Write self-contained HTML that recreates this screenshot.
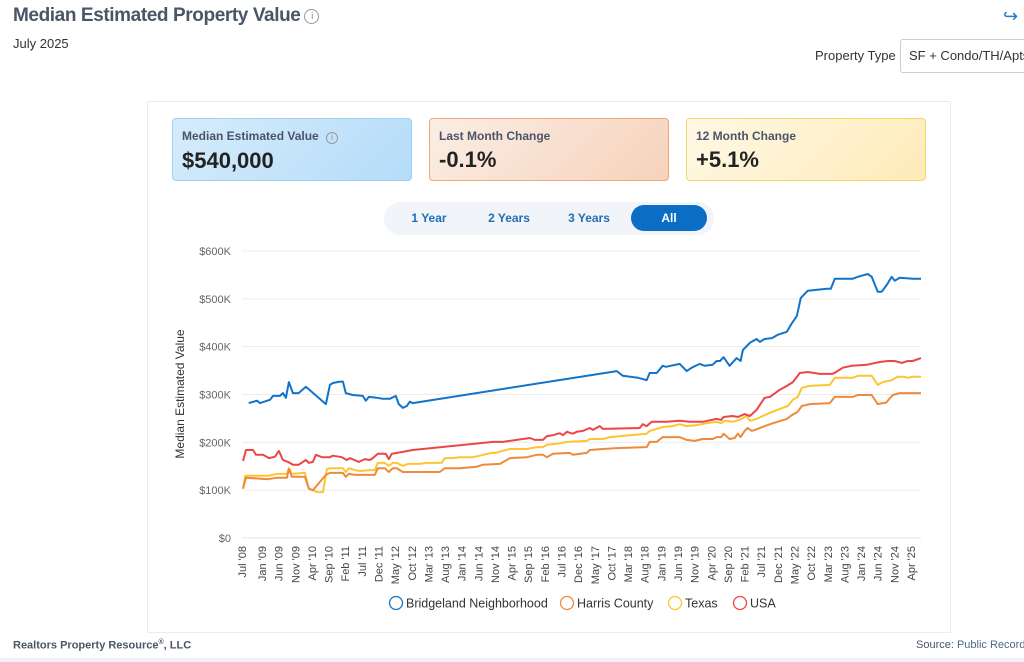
<!DOCTYPE html>
<html><head><meta charset="utf-8"><style>
*{box-sizing:border-box;margin:0;padding:0}
body{width:1024px;height:662px;position:relative;overflow:hidden;background:#fff;font-family:"Liberation Sans",sans-serif;color:#333}
.abs{position:absolute}
.title{left:13px;top:5px;font-size:19px;font-weight:bold;color:#4a5568;letter-spacing:-0.4px}
.info{display:inline-block;width:15px;height:15px;border:1.3px solid #999;border-radius:50%;font-size:10px;color:#888;text-align:center;line-height:13px;font-weight:normal;vertical-align:2px;margin-left:4px}
.card{left:147px;top:101px;width:804px;height:532px;border:1px solid #e8ecf2}
.stat{top:118px;height:63px;width:240px;border-radius:4px;padding:10px 9px}
.stat .l{font-size:12px;font-weight:bold;color:#4a5568}
.stat .v{font-size:22px;font-weight:bold;color:#222;margin-top:4px}
.tabs{left:384px;top:202px;width:330px;height:33px;border-radius:17px;background:#f1f4f8}
.tab{position:absolute;top:3px;height:26px;line-height:26px;font-size:12px;color:#1f6fb8;font-weight:bold;text-align:center}
</style></head><body>
<div class="abs title">Median Estimated Property Value<span class="info">i</span></div>
<div class="abs" style="left:13px;top:36px;font-size:13px;color:#333">July 2025</div>
<div class="abs" style="left:1003px;top:6px;font-size:18px;color:#1f7acc">↪</div>
<div class="abs" style="left:815px;top:48px;font-size:13px;color:#333">Property Type</div>
<div class="abs" style="left:900px;top:39px;width:130px;height:34px;border:1px solid #ccc;border-radius:3px;padding:8px 8px;font-size:13px;color:#333;white-space:nowrap;overflow:hidden">SF + Condo/TH/Apts</div>
<div class="abs card"></div>
<div class="abs stat" style="left:172px;background:linear-gradient(135deg,#d6ecfb,#b4dcfa);border:1px solid #9fd0f5"><div class="l">Median Estimated Value <span class="info" style="width:12px;height:12px;font-size:8px;line-height:10px;vertical-align:0">i</span></div><div class="v">$540,000</div></div>
<div class="abs stat" style="left:429px;background:linear-gradient(135deg,#fbeee5,#f6d2bb);border:1px solid #f0a878"><div class="l">Last Month Change</div><div class="v">-0.1%</div></div>
<div class="abs stat" style="left:686px;background:linear-gradient(135deg,#fff8e6,#fdebb8);border:1px solid #f8d56a"><div class="l">12 Month Change</div><div class="v">+5.1%</div></div>
<div class="abs tabs">
<div class="tab" style="left:14px;width:62px">1 Year</div>
<div class="tab" style="left:94px;width:62px">2 Years</div>
<div class="tab" style="left:174px;width:62px">3 Years</div>
<div class="tab" style="left:247px;width:76px;background:#0b6dc3;color:#fff;border-radius:14px">All</div>
</div>
<svg class="abs" style="left:0;top:0" width="1024" height="662" id="chart"></svg>
<div class="abs" style="left:13px;top:639px;font-size:11px;font-weight:bold;color:#4a5568">Realtors Property Resource<sup style="font-size:7px">®</sup>, LLC</div>
<div class="abs" style="left:916px;top:639px;font-size:11px;color:#4a5568;white-space:nowrap">Source: <span style="color:#4a6a8a">Public Records</span></div>
<div class="abs" style="left:0;top:658px;width:1024px;height:4px;background:#eef1f5"></div>
<script>
const yTicks=[0,100,200,300,400,500,600];
const yTickLabels=["$0","$100K","$200K","$300K","$400K","$500K","$600K"];
const xTickMonths=[0,6,11,16,21,26,31,36,41,46,51,56,61,66,71,76,81,86,91,96,101,106,111,116,121,126,131,136,141,146,151,156,161,166,171,176,181,186,191,196,201];
const xTickLabels=["Jul '08","Jan '09","Jun '09","Nov '09","Apr '10","Sep '10","Feb '11","Jul '11","Dec '11","May '12","Oct '12","Mar '13","Aug '13","Jan '14","Jun '14","Nov '14","Apr '15","Sep '15","Feb '16","Jul '16","Dec '16","May '17","Oct '17","Mar '18","Aug '18","Jan '19","Jun '19","Nov '19","Apr '20","Sep '20","Feb '21","Jul '21","Dec '21","May '22","Oct '22","Mar '23","Aug '23","Jan '24","Jun '24","Nov '24","Apr '25"];
const seriesNames=["Bridgeland Neighborhood","Harris County","Texas","USA"];
const seriesColors=["#1274c9","#ef8a3c","#fdc52f","#ea4747"];
const bridgelandMonths=[2,4.5,5.4,8.4,9.3,11.4,12.3,13.2,14.1,15.3,17,19.2,25.2,26.4,27.3,29.4,30.3,31.2,33.3,36.3,37.2,38.1,40.5,42.3,44.4,46.2,47.1,48.3,49.5,50.4,51.3,112.6,114.4,119,121.6,122.5,124.6,126.4,127.4,131.5,133.6,135.1,137.5,139,141.4,142.6,143.6,144.7,146.5,148.6,149.8,150.5,152.6,154.6,155.6,157,159.2,161,163.7,164.9,166.7,167.9,170,175.7,176.9,178.1,183.5,185,188,189.2,191,192.2,193.7,195.2,196.1,197.6,201.5,204];
const bridgelandValues=[282,287,282,289,297,297,303,293,326,303,303,316,280,320,324,327,327,303,299,297,287,295,293,291,291,297,280,272,276,285,282,349,339,335,330,345,345,360,358,364,349,356,364,360,362,370,370,378,360,376,370,393,408,416,410,416,418,425,431,446,464,502,517,521,521,542,542,546,552,546,515,515,529,546,538,544,542,542];
const harrisMonths=[0.3,1.2,7.8,10.5,13.5,14.1,15,18.9,20.1,21.3,25.2,26.4,30.3,31.2,32.1,33.9,38.4,39.9,40.8,42.9,44.1,45.3,46.5,48.3,49.8,59.4,60.9,63.3,65.4,70.5,72.3,77.5,80.5,85.6,88.6,90.4,91.6,93.4,98.5,99.4,103.6,104.5,108.4,112.6,121.6,122.5,124.6,126.4,131.5,133.6,136,138.4,141.4,142.6,144,144.7,146.5,148,149,149.8,151,151.9,153.2,155.6,159.5,163.7,165.2,167,168.2,170.6,176.6,178.1,183.5,185,189.2,191,192.5,193.5,195.5,197.6,204];
const harrisValues=[103,126,123,126,126,144,128,128,103,100,132,136,136,128,134,132,132,132,146,146,138,146,146,138,138,138,146,146,146,149,153,155,167,169,174,174,169,176,178,174,178,184,186,188,190,201,201,211,211,205,203,207,207,211,211,218,207,209,218,211,224,230,224,230,240,249,257,264,276,280,282,295,295,299,299,280,282,283,299,303,303];
const texasMonths=[0.3,1,7.8,10.5,13.5,14.1,15,18.9,20.1,22.5,24.3,25.5,26.4,30.3,31.2,32.1,33.9,35.4,38.4,39.9,40.8,42.9,44.1,45.3,46.5,48.3,49.8,53.4,55.5,60,60.9,63.3,65.4,69.3,71.4,75,76,80.5,85.6,88.6,90.4,91.6,94.6,97.6,103.6,104.5,108.4,110.5,121.6,122.5,124.6,126.4,129.4,131.5,133.6,136.6,139.6,142.6,144,145,147.4,149.5,151.6,152.6,154.6,157.7,161.6,164,165.5,167,168.2,170.6,176.6,178.1,183.5,185,189.2,191,192.5,195.2,197,199.1,200,201.5,204];
const texasValues=[103,130,130,134,134,146,134,136,103,96,96,144,146,146,138,146,142,140,142,142,157,157,151,157,157,151,155,155,157,157,167,167,169,169,172,178,178,186,186,190,190,195,197,201,203,207,207,211,218,224,228,232,234,238,234,236,240,243,240,245,243,247,255,245,249,259,270,276,289,295,314,318,320,335,335,339,339,320,326,330,337,337,335,337,337];
const usaMonths=[0.3,1.2,3.3,4.2,6.3,8.1,9.9,11.1,12.3,13.8,15.3,17,19.2,20.1,21.3,22.2,24,26.4,27.3,30,31.5,32.4,35.1,36.9,38.4,39.3,40.8,43.2,44.1,45,46.5,48.3,49.8,51.3,75.4,78.4,86.5,88,90.4,91.6,93.4,95.5,96.4,97.6,99.4,100.6,102.4,104.5,105.4,107.5,108.4,119.5,120.4,121.6,123.1,127.6,131.5,134.5,138.4,142.6,144,144.7,147.4,149,151,152.6,154.6,157,158.6,161.6,163.7,165.5,167.6,170,173.6,177.2,178,180.5,183.2,187.7,191.6,194,196.1,198.2,200,201.5,204];
const usaValues=[161,184,184,174,174,167,170,182,163,159,153,153,163,157,159,174,169,169,172,169,163,167,159,165,163,167,176,176,165,176,178,180,182,184,201,201,209,205,205,213,215,219,215,222,218,222,224,230,226,234,228,230,238,234,243,243,245,243,243,249,247,253,255,253,259,255,268,293,295,310,318,326,345,347,343,343,345,356,360,362,368,370,370,366,370,370,376];

const svg=document.getElementById('chart');
const NS='http://www.w3.org/2000/svg';
const X0=242,X1=921,Y0=538,Y1=251,MMAX=204,VMAX=600;
function xs(m){return X0+(X1-X0)*m/MMAX;}
function ys(v){return Y0-(Y0-Y1)*v/VMAX;}
function mk(tag,attrs,parent){const e=document.createElementNS(NS,tag);for(const k in attrs)e.setAttribute(k,attrs[k]);(parent||svg).appendChild(e);return e;}
yTicks.forEach((v,i)=>{
  const g=mk('line',{x1:X0,x2:X1,y1:ys(v),y2:ys(v),stroke:i==0?'#e6e6e6':'#ececec','stroke-width':1});
  
  
  const t=mk('text',{x:231,y:ys(v)+4,'text-anchor':'end','font-size':11,fill:'#666','font-family':'Liberation Sans,sans-serif'});
  t.textContent=yTickLabels[i];
  
  
});
xTickMonths.forEach((m,i)=>{
  const x=xs(m);
  const t=mk('text',{x:0,y:0,transform:`translate(${x+4},546) rotate(-90)`,'text-anchor':'end','font-size':11,fill:'#444','font-family':'Liberation Sans,sans-serif'});
  t.textContent=xTickLabels[i];
  
  
});
const yt=mk('text',{x:0,y:0,transform:'translate(184,394) rotate(-90)','text-anchor':'middle','font-size':12,fill:'#333','font-family':'Liberation Sans,sans-serif'});
yt.textContent='Median Estimated Value';


const sets=[[bridgelandMonths,bridgelandValues],[harrisMonths,harrisValues],[texasMonths,texasValues],[usaMonths,usaValues]];
const order=[2,1,3,0];
const lineNames=['line-bridgeland','line-harris-county','line-texas','line-usa'];
order.forEach(si=>{
  const [ms,vs]=sets[si];
  const d=ms.map((m,i)=>(i?'L':'M')+xs(m).toFixed(1)+','+ys(vs[i]).toFixed(1)).join('');
  const p=mk('path',{d:d,fill:'none',stroke:seriesColors[si],'stroke-width':2,'stroke-linejoin':'round'});
  
  
});
const legendX=[396,567,675,740];
seriesNames.forEach((n,i)=>{
  const g=mk('g',{});
  
  
  mk('circle',{cx:legendX[i],cy:603,r:6.5,fill:'none',stroke:seriesColors[i],'stroke-width':1.3},g);
  const t=mk('text',{x:legendX[i]+10,y:607.5,'font-size':12.5,fill:'#333','font-family':'Liberation Sans,sans-serif'},g);
  t.textContent=n;
});
</script>
</body></html>
